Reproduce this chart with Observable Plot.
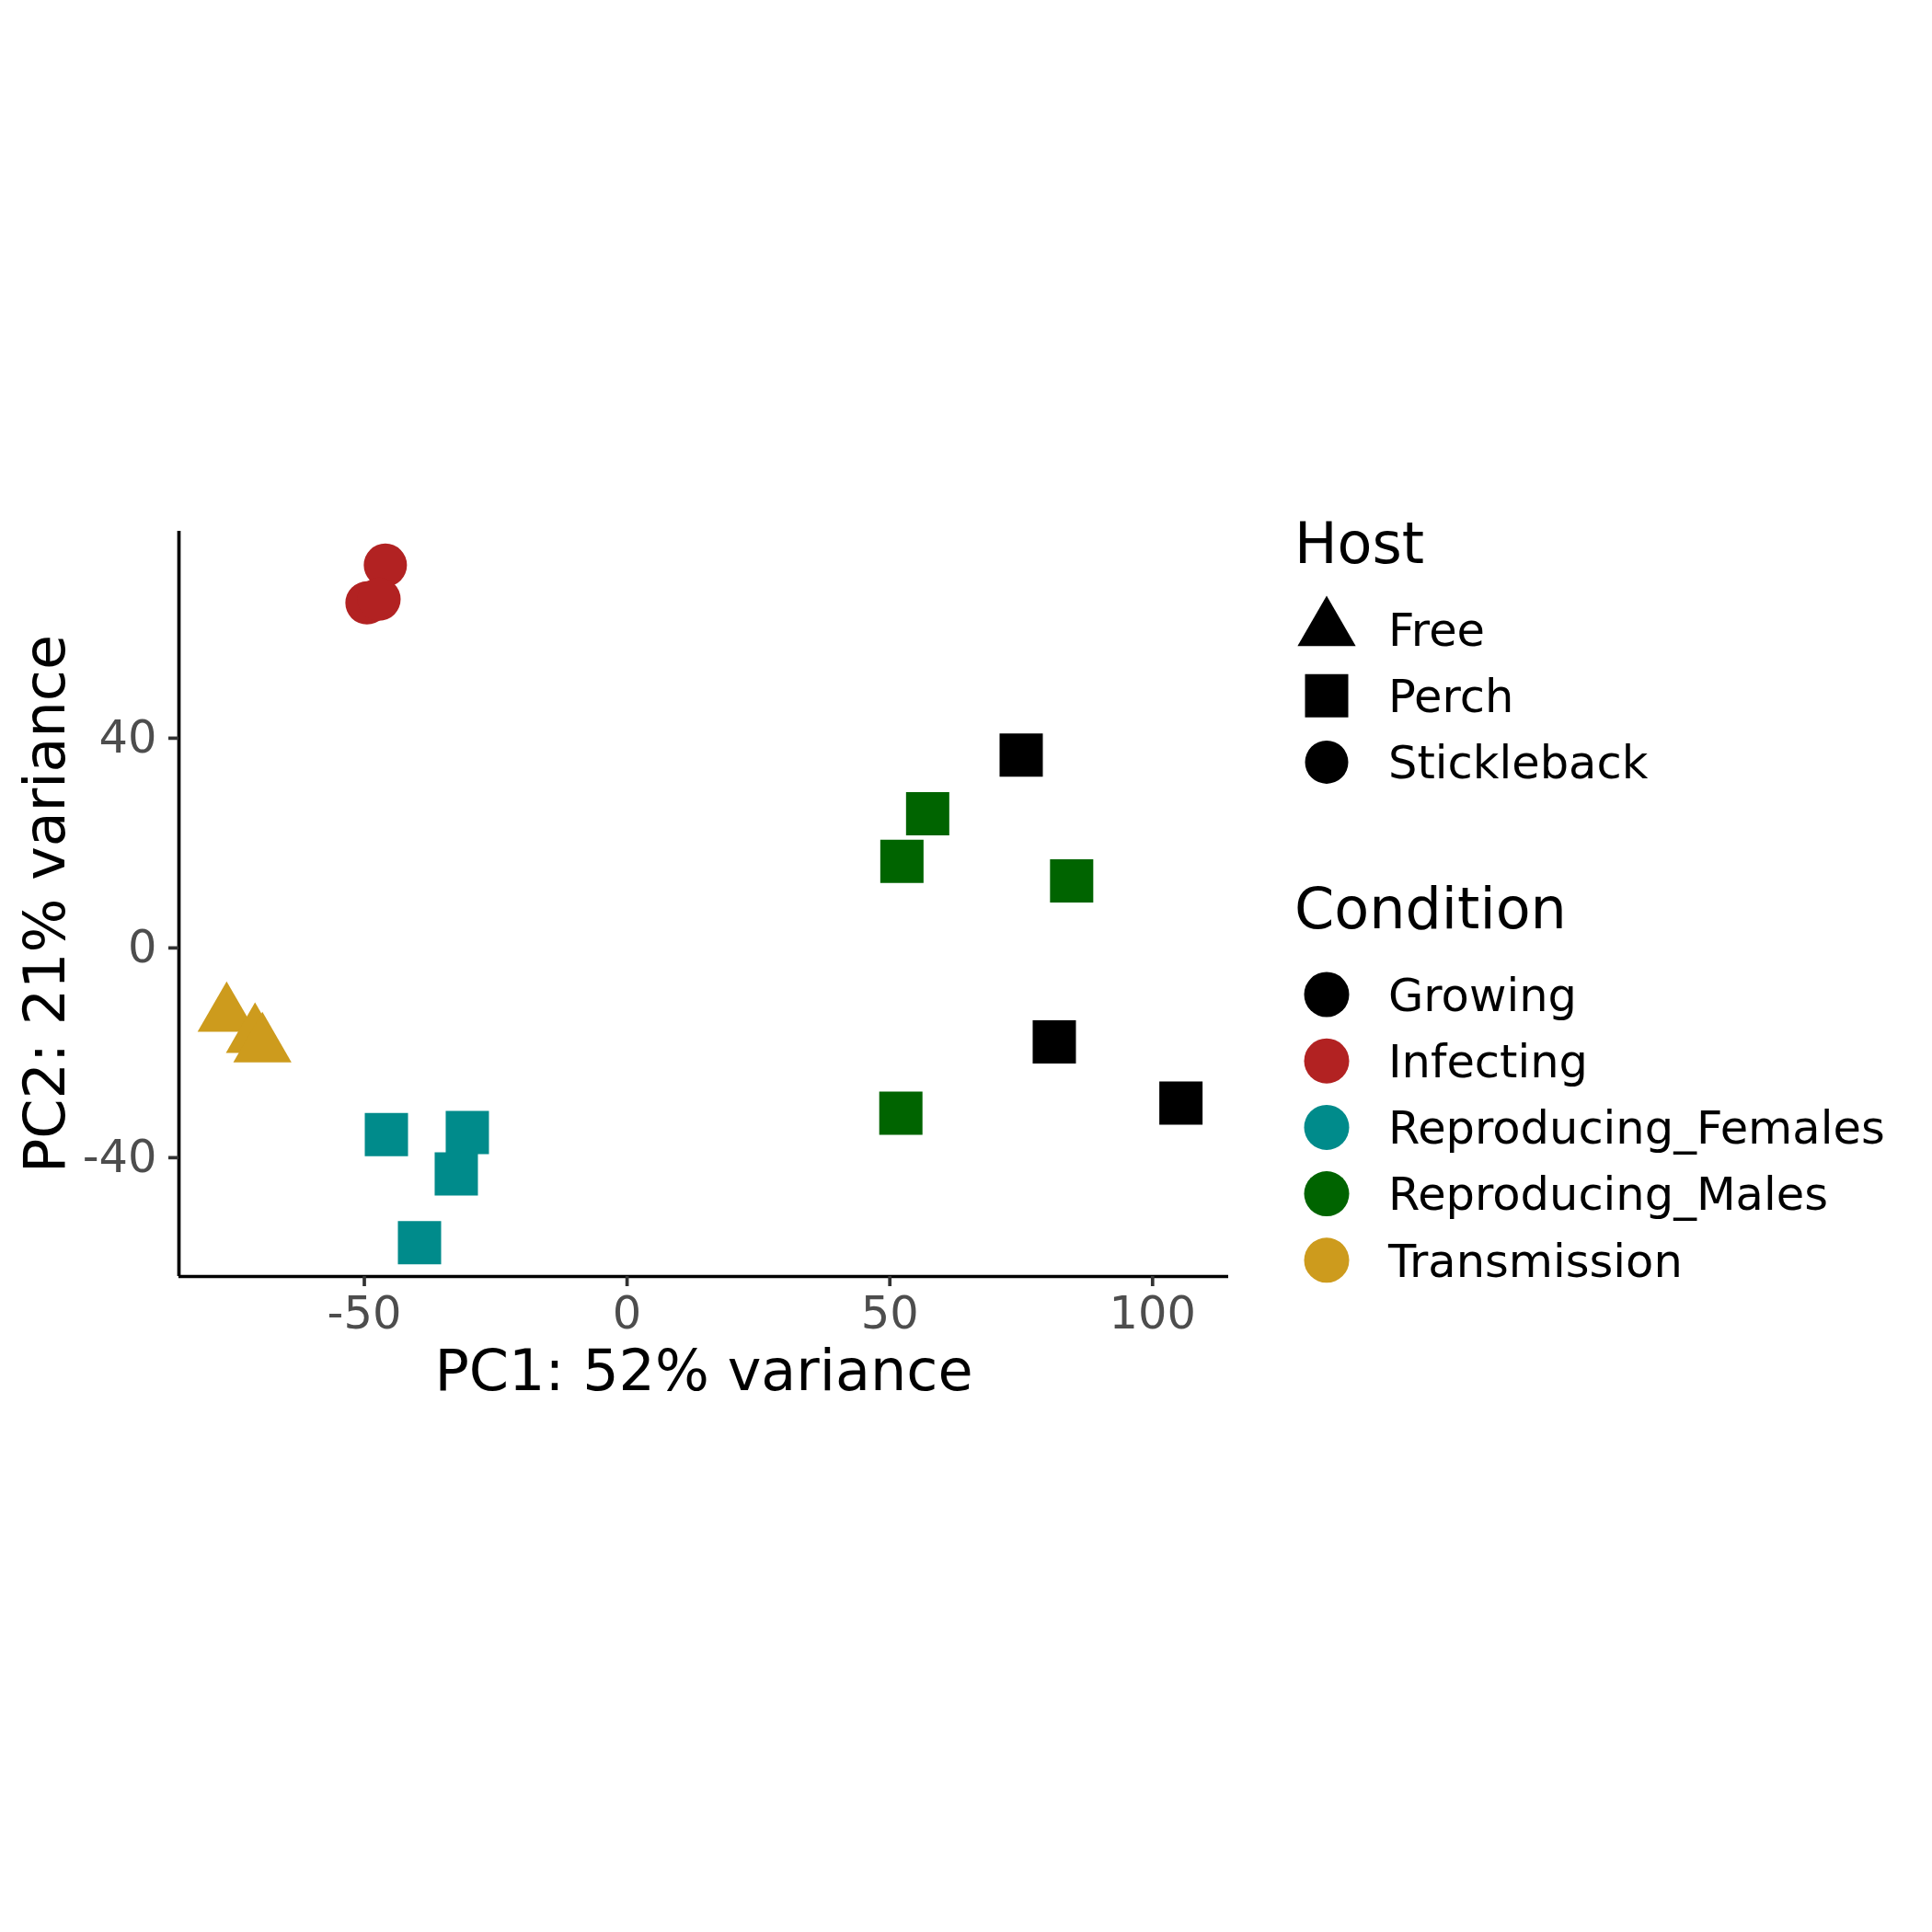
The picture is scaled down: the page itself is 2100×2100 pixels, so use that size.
<!DOCTYPE html>
<html>
<head>
<meta charset="utf-8">
<script src="https://cdn.jsdelivr.net/npm/d3@7"></script>
<script src="https://cdn.jsdelivr.net/npm/@observablehq/plot@0.6"></script>
<style>
  html, body { margin: 0; padding: 0; background: #ffffff; }
  #wrap { position: relative; width: 2100px; height: 2100px; }
  #wrap svg { position: absolute; left: 0; top: 0; }
</style>
</head>
<body>
<div id="wrap"></div>
<script>
// ---- data ----
const pc1 = [75.0, 81.3, 105.4, -46.0, -49.5, -47.2, -45.8, -30.4, -32.5, -39.5, 57.2, 52.3, 84.6, 52.1, -76.2, -70.8, -69.4];
const pc2 = [36.8, -17.9, -29.6, 73.0, 65.8, 66.5, -35.6, -35.2, -43.1, -56.2, 25.6, 16.5, 12.8, -31.5, -12.8, -16.8, -18.6];
const condition = ["Growing", "Growing", "Growing", "Infecting", "Infecting", "Infecting",
  "Reproducing_Females", "Reproducing_Females", "Reproducing_Females", "Reproducing_Females",
  "Reproducing_Males", "Reproducing_Males", "Reproducing_Males", "Reproducing_Males",
  "Transmission", "Transmission", "Transmission"];
const host = ["Perch", "Perch", "Perch", "Stickleback", "Stickleback", "Stickleback",
  "Perch", "Perch", "Perch", "Perch", "Perch", "Perch", "Perch", "Perch",
  "Free", "Free", "Free"];
const conditions = ["Growing", "Infecting", "Reproducing_Females", "Reproducing_Males", "Transmission"];
const conditionColors = ["#000000", "#B22222", "#008B8B", "#006400", "#CD9B1D"];
const hosts = ["Free", "Perch", "Stickleback"];
const xTicks = [-50, 0, 50, 100];
const yTicks = [-40, 0, 40];
const xTitle = "PC1: 52% variance";
const yTitle = "PC2: 21% variance";
const hostTitle = "Host";
const conditionTitle = "Condition";

// ---- build table ----
const data = pc1.map((v, i) => ({pc1: v, pc2: pc2[i], condition: condition[i], host: host[i]}));

// ggplot-like 5% expansion
function expand(values) {
  const [a, b] = d3.extent(values);
  const d = (b - a) * 0.05;
  return [a - d, b + d];
}
const xDomain = expand(pc1);
const yDomain = expand(pc2);

// square symbol with side = 2r (like R pch 15)
const squareSym = {draw(context, size) { const h = Math.sqrt(size / Math.PI); context.rect(-h, -h, 2 * h, 2 * h); }};
const hostSymbols = [d3.symbolTriangle, squareSym, d3.symbolCircle];

const R = 23.5;
const FONT = "DejaVu Sans, Liberation Sans, sans-serif";
const TITLE_SIZE = 62;
const TEXT_SIZE = 49.5;
const fmt = (d) => String(d);
const blank = () => "";

const chart = Plot.plot({
  width: 2100,
  height: 2100,
  marginLeft: 194,
  marginRight: 765,
  marginTop: 577,
  marginBottom: 713,
  style: {fontFamily: FONT, background: "transparent"},
  x: {domain: xDomain},
  y: {domain: yDomain},
  color: {domain: conditions, range: conditionColors},
  symbol: {domain: hosts, range: hostSymbols},
  marks: [
    Plot.dot(data, {x: "pc1", y: "pc2", fill: "condition", symbol: "host", r: R, stroke: null}),
    Plot.ruleX([xDomain[0]], {stroke: "#000000", strokeWidth: 3.7}),
    Plot.ruleY([yDomain[0]], {stroke: "#000000", strokeWidth: 3.7}),
    Plot.axisX({ticks: xTicks, tickSize: 11, tickPadding: 10, tickFormat: blank, stroke: "#333333", strokeWidth: 3.7, label: null, fontSize: TEXT_SIZE}),
    Plot.axisY({ticks: yTicks, tickSize: 11, tickPadding: 13, tickFormat: blank, stroke: "#333333", strokeWidth: 3.7, label: null, fontSize: TEXT_SIZE}),
    Plot.axisX({ticks: xTicks, tickSize: 0, tickPadding: 21, tickFormat: fmt, color: "#4D4D4D", label: null, fontSize: TEXT_SIZE}),
    Plot.axisY({ticks: yTicks, tickSize: 0, tickPadding: 24, tickFormat: fmt, color: "#4D4D4D", label: null, fontSize: TEXT_SIZE}),
    Plot.text([xTitle], {frameAnchor: "bottom", dy: 123, lineAnchor: "bottom", textAnchor: "middle", fontSize: TITLE_SIZE, fill: "#000000"}),
    Plot.text([yTitle], {frameAnchor: "left", dx: -169, rotate: -90, lineAnchor: "top", textAnchor: "middle", fontSize: TITLE_SIZE, fill: "#000000"})
  ]
});

const wrap = document.getElementById("wrap");
wrap.appendChild(chart);

// ---- legend (built from the plot's own scales) ----
const colorScale = chart.scale("color");
const symbolScale = chart.scale("symbol");
const lg = d3.create("svg")
  .attr("width", 2100).attr("height", 2100)
  .attr("font-family", FONT)
  .style("pointer-events", "none");

const keyX = 1442, labelX = 1509, titleX = 1407, rowH = 72.2;
lg.append("text").attr("x", titleX).attr("y", 612).attr("font-size", TITLE_SIZE).attr("fill", "#000").text(hostTitle);
symbolScale.domain.forEach((h, i) => {
  const cy = 684 + i * rowH;
  lg.append("path")
    .attr("transform", `translate(${keyX},${cy})`)
    .attr("d", d3.symbol(symbolScale.range[i], Math.PI * R * R)())
    .attr("fill", "#000");
  lg.append("text").attr("x", labelX).attr("y", cy).attr("dy", "0.36em")
    .attr("font-size", TEXT_SIZE).attr("fill", "#000").text(h);
});

lg.append("text").attr("x", titleX).attr("y", 1009).attr("font-size", TITLE_SIZE).attr("fill", "#000").text(conditionTitle);
colorScale.domain.forEach((c, i) => {
  const cy = 1081 + i * rowH;
  lg.append("circle").attr("cx", keyX).attr("cy", cy).attr("r", 24.5).attr("fill", colorScale.range[i]);
  lg.append("text").attr("x", labelX).attr("y", cy).attr("dy", "0.36em")
    .attr("font-size", TEXT_SIZE).attr("fill", "#000").text(c);
});
wrap.appendChild(lg.node());
</script>
</body>
</html>
